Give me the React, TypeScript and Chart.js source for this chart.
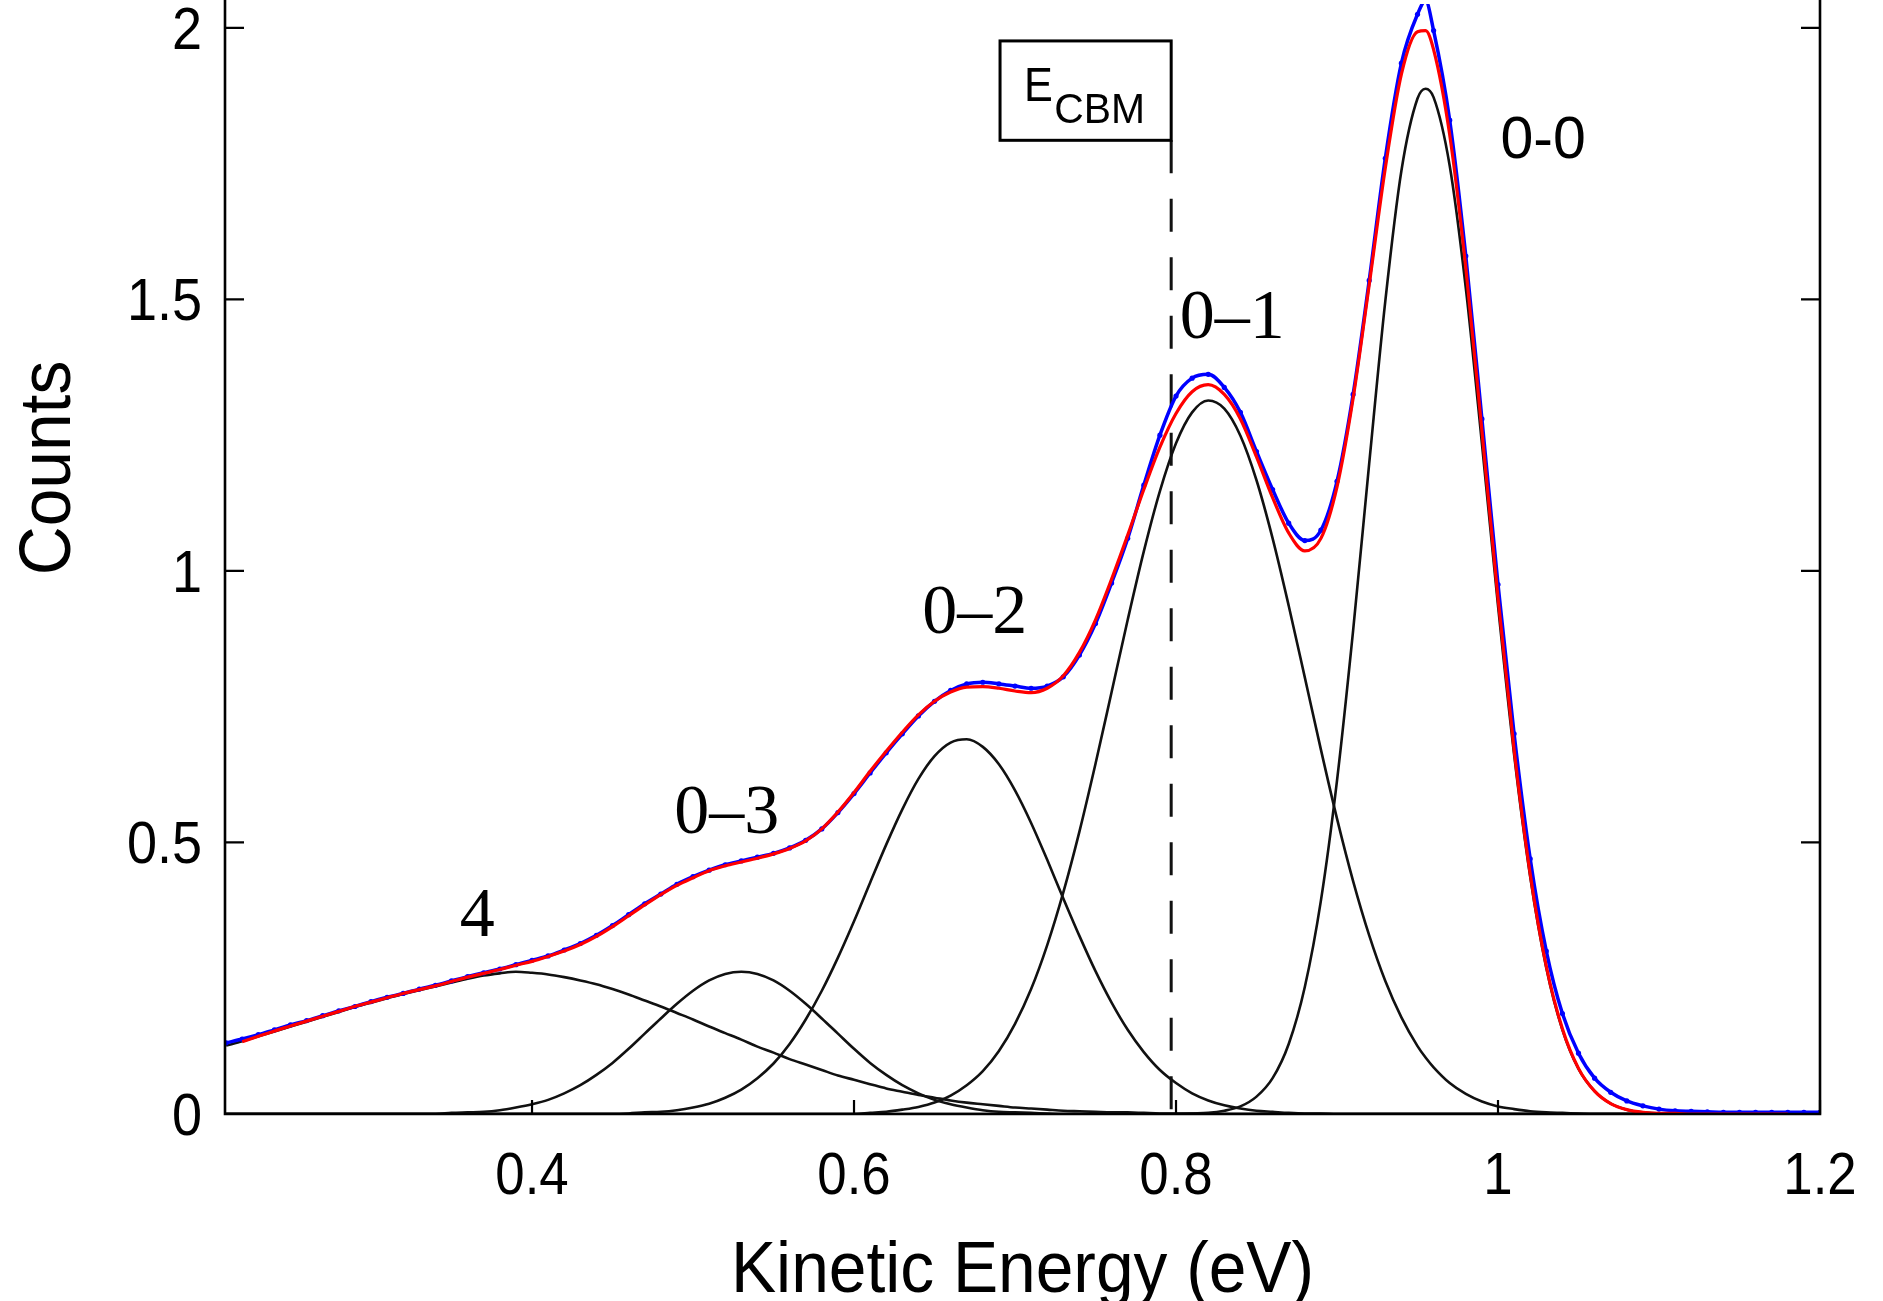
import React, { useEffect, useRef } from "react";
import { Chart, registerables } from "chart.js";

Chart.register(...registerables);

// ---------- data ----------
const energies = [
  0.21, 0.22, 0.23, 0.24, 0.25, 0.26, 0.27, 0.28, 0.29, 0.3,
  0.31, 0.32, 0.33, 0.34, 0.35, 0.36, 0.37, 0.38, 0.39, 0.4,
  0.41, 0.42, 0.43, 0.44, 0.45, 0.46, 0.47, 0.48, 0.49, 0.5,
  0.51, 0.52, 0.53, 0.54, 0.55, 0.56, 0.57, 0.58, 0.59, 0.6,
  0.61, 0.62, 0.63, 0.64, 0.65, 0.66, 0.67, 0.68, 0.69, 0.7,
  0.71, 0.72, 0.73, 0.74, 0.75, 0.76, 0.77, 0.78, 0.79, 0.8,
  0.81, 0.82, 0.83, 0.84, 0.85, 0.86, 0.87, 0.88, 0.89, 0.9,
  0.91, 0.92, 0.93, 0.94, 0.95, 0.955, 0.96, 0.97, 0.98, 0.99, 1.0,
  1.01, 1.02, 1.03, 1.04, 1.05, 1.06, 1.07, 1.08, 1.09, 1.1,
  1.11, 1.12, 1.13, 1.14, 1.15, 1.16, 1.17, 1.18, 1.19, 1.2,
];

// measured counts (blue points)
const measuredCounts = [
  0.131, 0.138, 0.146, 0.155, 0.164, 0.172, 0.181, 0.19, 0.198, 0.207,
  0.215, 0.222, 0.23, 0.237, 0.245, 0.253, 0.26, 0.267, 0.275, 0.283,
  0.291, 0.302, 0.314, 0.329, 0.347, 0.367, 0.387, 0.405, 0.423, 0.437,
  0.449, 0.459, 0.466, 0.473, 0.48, 0.49, 0.504, 0.525, 0.555, 0.59,
  0.628, 0.665, 0.7, 0.733, 0.76, 0.78, 0.792, 0.795, 0.792, 0.788,
  0.784, 0.788, 0.805, 0.845, 0.903, 0.978, 1.06, 1.158, 1.25, 1.322,
  1.355, 1.362, 1.338, 1.292, 1.22, 1.15, 1.088, 1.056, 1.075, 1.165,
  1.325, 1.535, 1.76, 1.935, 2.025, 2.05, 1.995, 1.83, 1.58, 1.28, 0.975,
  0.7, 0.47, 0.3, 0.185, 0.112, 0.066, 0.04, 0.024, 0.015, 0.009,
  0.006, 0.005, 0.004, 0.003, 0.003, 0.003, 0.003, 0.003, 0.003, 0.003,
];

// total fit (red line)
const totalFit = [
  null, 0.133, 0.143, 0.153, 0.162, 0.171, 0.18, 0.189, 0.198, 0.206,
  0.214, 0.222, 0.229, 0.236, 0.244, 0.252, 0.259, 0.266, 0.274, 0.281,
  0.29, 0.3, 0.312, 0.327, 0.345, 0.365, 0.385, 0.404, 0.421, 0.435,
  0.448, 0.457, 0.464, 0.471, 0.479, 0.489, 0.503, 0.525, 0.556, 0.592,
  0.631, 0.668, 0.703, 0.735, 0.76, 0.777, 0.786, 0.787, 0.784, 0.779,
  0.776, 0.784, 0.807, 0.85, 0.91, 0.985, 1.066, 1.15, 1.228, 1.29,
  1.33, 1.343, 1.325, 1.28, 1.21, 1.135, 1.07, 1.037, 1.06, 1.155,
  1.318, 1.527, 1.742, 1.915, 1.993, 1.995, 1.96, 1.803, 1.558, 1.258, 0.95,
  0.671, 0.442, 0.272, 0.157, 0.084, 0.042, 0.019, 0.008, 0.003, 0.001,
  0.001, 0, 0, 0, 0, 0, 0, 0, null, null,
];

// component "4"
const peak4 = [
  0.126, 0.134, 0.143, 0.152, 0.161, 0.17, 0.179, 0.188, 0.197, 0.205,
  0.213, 0.221, 0.228, 0.235, 0.242, 0.249, 0.255, 0.259, 0.262, 0.26,
  0.257, 0.252, 0.246, 0.239, 0.23, 0.22, 0.209, 0.198, 0.186, 0.174,
  0.161, 0.149, 0.137, 0.124, 0.113, 0.101, 0.091, 0.081, 0.071, 0.063,
  0.055, 0.047, 0.041, 0.035, 0.03, 0.025, 0.021, 0.018, 0.015, 0.012,
  0.01, 0.008, 0.006, 0.005, 0.004, 0.003, 0.003, 0.002, 0.001, 0.001,
  0.001, 0, 0, 0, 0, 0, 0, 0, 0, 0,
  0, 0, 0, 0, 0, 0, 0, 0, 0, 0, 0,
  0, 0, 0, 0, 0, 0, 0, 0, 0, 0,
  0, 0, 0, 0, 0, 0, 0, 0, 0, 0,
];

// component "0-3"
const peak03 = [
  0, 0, 0, 0, 0, 0, 0, 0, 0, 0,
  0, 0, 0, 0, 0.002, 0.003, 0.004, 0.007, 0.012, 0.018,
  0.026, 0.038, 0.053, 0.072, 0.094, 0.12, 0.148, 0.176, 0.203, 0.227,
  0.246, 0.258, 0.262, 0.258, 0.246, 0.227, 0.203, 0.176, 0.148, 0.12,
  0.094, 0.072, 0.053, 0.038, 0.026, 0.018, 0.012, 0.007, 0.004, 0.003,
  0.002, 0.001, 0, 0, 0, 0, 0, 0, 0, 0,
  0, 0, 0, 0, 0, 0, 0, 0, 0, 0,
  0, 0, 0, 0, 0, 0, 0, 0, 0, 0, 0,
  0, 0, 0, 0, 0, 0, 0, 0, 0, 0,
  0, 0, 0, 0, 0, 0, 0, 0, 0, 0,
];

// component "0-2"
const peak02 = [
  0, 0, 0, 0, 0, 0, 0, 0, 0, 0,
  0, 0, 0, 0, 0, 0, 0, 0, 0, 0,
  0, 0, 0, 0, 0, 0.001, 0.003, 0.004, 0.007, 0.012,
  0.019, 0.03, 0.045, 0.066, 0.093, 0.129, 0.174, 0.227, 0.288, 0.355,
  0.426, 0.496, 0.561, 0.617, 0.659, 0.684, 0.69, 0.676, 0.644, 0.596,
  0.536, 0.468, 0.397, 0.328, 0.263, 0.205, 0.155, 0.114, 0.081, 0.057,
  0.038, 0.025, 0.016, 0.01, 0.006, 0.004, 0.002, 0.001, 0.001, 0,
  0, 0, 0, 0, 0, 0, 0, 0, 0, 0, 0,
  0, 0, 0, 0, 0, 0, 0, 0, 0, 0,
  0, 0, 0, 0, 0, 0, 0, 0, 0, 0,
];

// component "0-1"
const peak01 = [
  0, 0, 0, 0, 0, 0, 0, 0, 0, 0,
  0, 0, 0, 0, 0, 0, 0, 0, 0, 0,
  0, 0, 0, 0, 0, 0, 0, 0, 0, 0,
  0, 0, 0, 0, 0, 0, 0, 0, 0, 0,
  0.002, 0.004, 0.008, 0.013, 0.021, 0.034, 0.053, 0.079, 0.116, 0.166,
  0.23, 0.311, 0.408, 0.52, 0.645, 0.777, 0.91, 1.036, 1.147, 1.235,
  1.292, 1.314, 1.299, 1.249, 1.167, 1.06, 0.936, 0.804, 0.671, 0.544,
  0.429, 0.329, 0.245, 0.178, 0.125, 0.104, 0.086, 0.057, 0.037, 0.023, 0.014,
  0.009, 0.005, 0.003, 0.002, 0.001, 0, 0, 0, 0, 0,
  0, 0, 0, 0, 0, 0, 0, 0, 0, 0,
];

// component "0-0"
const peak00 = [
  0, 0, 0, 0, 0, 0, 0, 0, 0, 0,
  0, 0, 0, 0, 0, 0, 0, 0, 0, 0,
  0, 0, 0, 0, 0, 0, 0, 0, 0, 0,
  0, 0, 0, 0, 0, 0, 0, 0, 0, 0,
  0, 0, 0, 0, 0, 0, 0, 0, 0, 0,
  0, 0, 0, 0, 0, 0, 0, 0, 0, 0,
  0.001, 0.002, 0.006, 0.014, 0.032, 0.066, 0.129, 0.234, 0.393, 0.614,
  0.89, 1.198, 1.497, 1.737, 1.87, 1.888, 1.872, 1.746, 1.521, 1.235, 0.936,
  0.662, 0.437, 0.269, 0.155, 0.083, 0.042, 0.019, 0.008, 0.003, 0.001,
  0, 0, 0, 0, 0, 0, 0, 0, 0, 0,
];

const xTickValues = [0.4, 0.6, 0.8, 1, 1.2];
const xTickLabels = ["0.4", "0.6", "0.8", "1", "1.2"];
const yTickValues = [0, 0.5, 1, 1.5, 2];
const yTickLabels = ["0", "0.5", "1", "1.5", "2"];

const peakNames = ["4", "0\u20133", "0\u20132", "0\u20131", "0-0"];
const peakNameEnergy = [0.366, 0.521, 0.675, 0.835, 1.028];
const peakNameCounts = [0.328, 0.517, 0.886, 1.429, 1.76];

const cbmEnergy = 0.797;

// ---------- layout / style ----------
const W = 1883;
const H = 1301;
const X_MIN = 0.2093;
const X_MAX = 1.2;
const Y_MIN = 0;
const Y_MAX = 2.044;
const SANS = '"Liberation Sans", Arial, Helvetica, sans-serif';
const SERIF = '"Liberation Serif", "Times New Roman", Times, serif';

function drawText(
  ctx: CanvasRenderingContext2D,
  s: string,
  x: number,
  y: number,
  font: string,
  align: CanvasTextAlign,
  sx: number,
  rot = 0
) {
  ctx.save();
  ctx.font = font;
  ctx.fillStyle = "#000";
  ctx.textAlign = align;
  ctx.textBaseline = "alphabetic";
  ctx.translate(x, y);
  if (rot) ctx.rotate(rot);
  ctx.scale(sx, 1);
  ctx.fillText(s, 0, 0);
  ctx.restore();
}

const decorPlugin = {
  id: "decor",
  beforeDatasetsDraw(chart: any) {
    const { ctx, scales } = chart;
    const xs = scales.x;
    const ys = scales.y;
    const px = xs.getPixelForValue(cbmEnergy);
    ctx.save();
    ctx.strokeStyle = "#111";
    ctx.lineWidth = 3;
    ctx.setLineDash([33, 25.5]);
    ctx.beginPath();
    ctx.moveTo(px, ys.getPixelForValue(1.793));
    ctx.lineTo(px, ys.getPixelForValue(0));
    ctx.stroke();
    ctx.restore();
  },
  afterDatasetsDraw(chart: any) {
    const { ctx, scales, chartArea } = chart;
    const xs = scales.x;
    const ys = scales.y;
    const L = chartArea.left;
    const R = chartArea.right;
    const B = chartArea.bottom;
    const T = 0;

    ctx.save();
    ctx.strokeStyle = "#000";
    ctx.lineWidth = 2.6;
    ctx.setLineDash([]);
    ctx.beginPath();
    ctx.moveTo(L, T);
    ctx.lineTo(L, B);
    ctx.lineTo(R, B);
    ctx.lineTo(R, T);
    ctx.stroke();

    // ticks
    ctx.lineWidth = 2.2;
    ctx.beginPath();
    yTickValues.forEach((v) => {
      const py = ys.getPixelForValue(v);
      ctx.moveTo(L, py);
      ctx.lineTo(L + 19, py);
      ctx.moveTo(R, py);
      ctx.lineTo(R - 19, py);
    });
    xTickValues.forEach((v) => {
      const px = xs.getPixelForValue(v);
      ctx.moveTo(px, B);
      ctx.lineTo(px, B - 14);
    });
    ctx.stroke();
    ctx.restore();

    // tick labels
    yTickValues.forEach((v, i) => {
      drawText(ctx, yTickLabels[i], L - 23, ys.getPixelForValue(v) + 21, `60px ${SANS}`, "right", 0.9);
    });
    xTickValues.forEach((v, i) => {
      drawText(ctx, xTickLabels[i], xs.getPixelForValue(v), B + 80, `60px ${SANS}`, "center", 0.88);
    });

    // axis titles
    drawText(ctx, "Kinetic Energy (eV)", (L + R) / 2, 1292, `72px ${SANS}`, "center", 0.94);
    drawText(ctx, "Counts", 70, 468, `72px ${SANS}`, "center", 0.94, -Math.PI / 2);

    // peak labels
    peakNames.forEach((s, i) => {
      const font = i === 4 ? `59px ${SANS}` : `70px ${SERIF}`;
      drawText(ctx, s, xs.getPixelForValue(peakNameEnergy[i]), ys.getPixelForValue(peakNameCounts[i]), font, "center", 1);
    });

    // E_CBM box
    const bx0 = xs.getPixelForValue(0.6907);
    const bx1 = xs.getPixelForValue(cbmEnergy);
    const by0 = ys.getPixelForValue(1.976);
    const by1 = ys.getPixelForValue(1.793);
    ctx.save();
    ctx.fillStyle = "#fff";
    ctx.fillRect(bx0, by0, bx1 - bx0, by1 - by0);
    ctx.strokeStyle = "#000";
    ctx.lineWidth = 3;
    ctx.strokeRect(bx0, by0, bx1 - bx0, by1 - by0);
    ctx.restore();
    drawText(ctx, "E", xs.getPixelForValue(0.7056), ys.getPixelForValue(1.866), `48px ${SANS}`, "left", 0.9);
    drawText(ctx, "CBM", xs.getPixelForValue(0.7243), ys.getPixelForValue(1.824), `43px ${SANS}`, "left", 0.95);
  },
};

function series(values: (number | null)[]) {
  return energies.map((e, i) => ({ x: e, y: values[i] }));
}

export default function App() {
  const canvasRef = useRef<HTMLCanvasElement | null>(null);

  useEffect(() => {
    const canvas = canvasRef.current;
    if (!canvas) return;
    const black = (values: number[], label: string) => ({
      label,
      data: series(values),
      borderColor: "#111",
      borderWidth: 2.6,
      pointRadius: 0,
      fill: false,
      cubicInterpolationMode: "monotone" as const,
      order: 3,
    });
    const chart = new Chart(canvas, {
      type: "line",
      data: {
        datasets: [
          {
            label: "Fit",
            data: series(totalFit),
            borderColor: "#ff0000",
            borderWidth: 3.2,
            pointRadius: 0,
            fill: false,
            cubicInterpolationMode: "monotone",
            order: 1,
          },
          {
            label: "Data",
            data: series(measuredCounts),
            borderColor: "#0000ff",
            backgroundColor: "#0000ff",
            borderWidth: 3.5,
            pointRadius: 2.6,
            pointBorderWidth: 0,
            pointBackgroundColor: "#0000ff",
            fill: false,
            cubicInterpolationMode: "monotone",
            order: 2,
          },
          black(peak4, "4"),
          black(peak03, "0-3"),
          black(peak02, "0-2"),
          black(peak01, "0-1"),
          black(peak00, "0-0"),
        ] as any,
      },
      options: {
        animation: false,
        responsive: true,
        maintainAspectRatio: false,
        devicePixelRatio: 1,
        layout: { padding: { left: 225, right: 63, top: 0, bottom: 187 } },
        plugins: {
          legend: { display: false },
          tooltip: { enabled: false },
        },
        events: [],
        scales: {
          x: { type: "linear", min: X_MIN, max: X_MAX, display: false },
          y: { type: "linear", min: Y_MIN, max: Y_MAX, display: false },
        },
      },
      plugins: [decorPlugin],
    });
    return () => chart.destroy();
  }, []);

  return (
    <div
      style={{
        position: "absolute",
        left: 0,
        top: 0,
        width: W,
        height: H,
        background: "#fff",
        overflow: "hidden",
      }}
    >
      <canvas ref={canvasRef} style={{ display: "block", width: W, height: H }} />
    </div>
  );
}
